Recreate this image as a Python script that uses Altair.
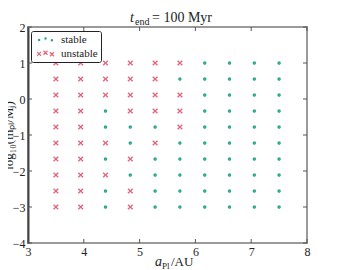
import altair as alt
import pandas as pd

# ---- data ----
a_vals = [3.5, 3.944, 4.389, 4.833, 5.278, 5.722, 6.167, 6.611, 7.056, 7.5]
logm_vals = [1.0, 0.556, 0.111, -0.333, -0.778, -1.222, -1.667, -2.111, -2.556, -3.0]
# one string per logm row (top to bottom), one char per a column: U=unstable, S=stable
stability = [
    "UUUUUUSSSS",
    "UUUUUSSSSS",
    "UUUUUUSSSS",
    "UUSUUUSSSS",
    "UUSSSUSSSS",
    "UUUSUSSSSS",
    "UUSUSSSSSS",
    "UUUSSSSSSS",
    "UUSUSSSSSS",
    "UUSUSSSSSS",
]
categories = ["stable", "unstable"]
x_ticks = [3, 4, 5, 6, 7, 8]
y_ticks = [-4, -3, -2, -1, 0, 1, 2]

rows = []
for i, m in enumerate(logm_vals):
    for j, a in enumerate(a_vals):
        rows.append({"a": a, "logm": m,
                     "status": "stable" if stability[i][j] == "S" else "unstable"})
df = pd.DataFrame(rows)

W, H = 279, 216
FONT = "Liberation Serif"
TEAL = "#2aa58a"
PINK = "#e2687f"
XPATH = "M-1,-1L1,1M-1,1L1,-1"
# legend glyphs: three markers per entry (matplotlib scatterpoints=3)
DOTS3 = ("M-1.75,0.1a0.15,0.15 0 1,0 0.3,0a0.15,0.15 0 1,0 -0.3,0"
         "M-0.15,-0.25a0.15,0.15 0 1,0 0.3,0a0.15,0.15 0 1,0 -0.3,0"
         "M1.45,0.2a0.15,0.15 0 1,0 0.3,0a0.15,0.15 0 1,0 -0.3,0")
XS3 = ("M-2.1,-0.4L-1.1,0.6M-2.1,0.6L-1.1,-0.4"
       "M-0.5,-0.7L0.5,0.3M-0.5,0.3L0.5,-0.7"
       "M1.1,-0.3L2.1,0.7M1.1,0.7L2.1,-0.3")

xs = alt.Scale(domain=[3, 8], nice=False, zero=False)
ys = alt.Scale(domain=[-4, 2], nice=False, zero=False)

xax = alt.Axis(values=x_ticks, format="d", ticks=False, grid=False, domain=False,
               labelFont=FONT, labelFontSize=12, labelColor="#222", labelPadding=3,
               labelFlush=False, title=None)
yax = alt.Axis(values=y_ticks, format="d", ticks=False, grid=False,
               domainColor="#444", domainWidth=2,
               labelFont=FONT, labelFontSize=12, labelColor="#222", labelPadding=3,
               labelFlush=False,
               title="log₁₀(mₚₗ/Mⱼ)", titleFont=FONT, titleFontSize=13,
               titleFontWeight="normal", titleColor="#222", titleAngle=270,
               titleBaseline="alphabetic", titleAlign="center",
               titleX=-16, titleY=H / 2)

points = alt.Chart(df).mark_point(filled=False, strokeWidth=1.4, opacity=1).encode(
    x=alt.X("a:Q", scale=xs, axis=xax, title=None),
    y=alt.Y("logm:Q", scale=ys, axis=yax),
    color=alt.Color("status:N", scale=alt.Scale(domain=categories, range=[TEAL, PINK]),
                    legend=None),
    shape=alt.Shape("status:N", scale=alt.Scale(domain=categories, range=["circle", XPATH]),
                    legend=None),
    size=alt.Size("status:N", scale=alt.Scale(domain=categories, range=[4, 22]), legend=None),
)

# legend-only layer (no marks drawn) carrying the three-marker legend glyphs
leg = alt.Legend(title=None, orient="none", legendX=3, legendY=4)
legend_layer = alt.Chart(df).transform_filter("false").mark_point(
    filled=False, strokeWidth=1.3, size=64, opacity=1).encode(
    x=alt.X("a:Q", scale=xs, axis=xax, title=None),
    y=alt.Y("logm:Q", scale=ys, axis=yax),
    color=alt.Color("status:N", scale=alt.Scale(domain=categories, range=[TEAL, PINK]),
                    legend=leg),
    shape=alt.Shape("status:N", scale=alt.Scale(domain=categories, range=[DOTS3, XS3]),
                    legend=leg),
)

tx = pd.DataFrame({"t": x_ticks})
ty = pd.DataFrame({"t": y_ticks})
TC = "#555"
bottom_t = alt.Chart(tx).mark_rule(color=TC, strokeWidth=1).encode(
    x=alt.X("t:Q", scale=xs, axis=xax), y=alt.value(H), y2=alt.value(H - 4))
top_t = alt.Chart(tx).mark_rule(color=TC, strokeWidth=1).encode(
    x=alt.X("t:Q", scale=xs, axis=xax), y=alt.value(0), y2=alt.value(4))
left_t = alt.Chart(ty).mark_rule(color=TC, strokeWidth=1).encode(
    y=alt.Y("t:Q", scale=ys, axis=yax), x=alt.value(0), x2=alt.value(4))
right_t = alt.Chart(ty).mark_rule(color=TC, strokeWidth=1).encode(
    y=alt.Y("t:Q", scale=ys, axis=yax), x=alt.value(W), x2=alt.value(W - 4))

one = pd.DataFrame({"k": [0]})


def txt(s, x, y, size, style="normal"):
    return alt.Chart(one).mark_text(text=s, font=FONT, fontSize=size, fontStyle=style,
                                    align="left", baseline="alphabetic", color="#222").encode(
        x=alt.value(x), y=alt.value(y))


title_t = txt("t", 102, -5, 14, "italic")
title_sub = txt("end", 107, -2, 10)
title_rest = txt("= 100 Myr", 124, -5, 14)
xl_a = txt("a", 127, 239, 14, "italic")
xl_sub = txt("Pl", 134, 242, 9)
xl_rest = txt("/AU", 143, 239, 13)

chart = alt.layer(points, legend_layer, bottom_t, top_t, left_t, right_t,
                  title_t, title_sub, title_rest, xl_a, xl_sub, xl_rest).resolve_scale(
    color="independent", shape="independent"
).properties(
    width=W, height=H,
    autosize=alt.AutoSizeParams(type="none"),
    padding={"left": 20, "top": 19, "right": 8, "bottom": 27},
).configure_view(
    stroke="#9a9a9a", strokeWidth=2
).configure_legend(
    strokeColor="#222", fillColor="white", padding=3, cornerRadius=2,
    labelFont=FONT, labelFontSize=11, labelColor="#222",
    symbolSize=64, symbolStrokeWidth=1.3, symbolOffset=6, labelOffset=10, rowPadding=2,
)

chart.save("out.html", embed_options={"renderer": "svg", "actions": False})
